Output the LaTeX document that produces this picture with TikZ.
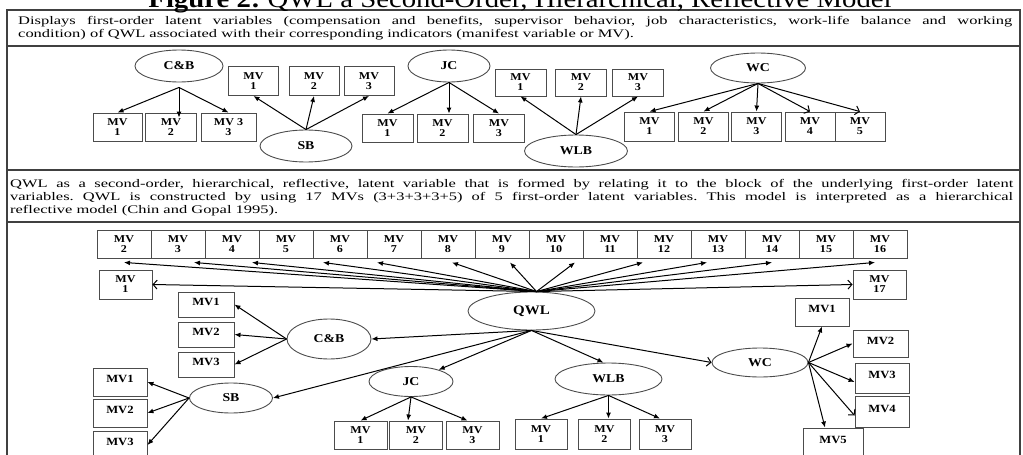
\documentclass[tikz,border=0pt]{standalone}
\usepackage{fontspec}
\setmainfont{Liberation Serif}[FakeStretch=1.15]
\newfontfamily\bodyfont{Liberation Serif}[FakeStretch=1.42]
\usetikzlibrary{shapes.geometric,arrows.meta}
\tolerance=9999
\frenchspacing

\tikzset{
  mv/.style={draw=black!70,line width=0.9pt,minimum width=51pt,minimum height=28pt,inner sep=0pt,align=center,font=\fontsize{10.5}{10}\selectfont\bfseries},
  mvs/.style={mv,text depth=6pt,font=\fontsize{11}{11}\selectfont\bfseries},
  lv/.style={ellipse,draw=black!70,line width=0.9pt,inner sep=0pt,font=\fontsize{12}{12}\selectfont\bfseries},
  arr/.style={-{Latex[length=6pt,width=5pt]},line width=1pt},
  oarr/.style={-{Straight Barb[length=4pt,width=9pt]},line width=1pt},
  para/.style={anchor=north west,inner sep=0pt,align=justify,font=\bodyfont\fontsize{11.6}{13.3}\selectfont},
  sepline/.style={draw=black!75,line width=1.2pt}
}

\begin{document}
\begin{tikzpicture}[x=1pt,y=-1pt]
  \useasboundingbox (0,0) rectangle (1023,455);
  \clip (0,0) rectangle (1023,455);

  % frame and captions
  \draw[sepline] (7,470) -- (7,10) -- (1020,10) -- (1020,470);
  \foreach \y in {46,170,222}
    {\draw[sepline] (7,\y) -- (1020,\y);}
  \node[anchor=base,inner sep=0pt,font=\fontsize{25}{25}\selectfont] (title) at (520,7) {\textbf{Figure 2:} QWL a Second-Order, Hierarchical, Reflective Model};
  \node[para,text width=994pt] (intro) at (18,16) {Displays first-order latent variables (compensation and benefits, supervisor behavior, job characteristics, work-life balance and working\linebreak condition) of QWL associated with their corresponding indicators (manifest variable or MV).};
  \node[para,text width=1003pt] (note) at (10,179) {QWL as a second-order, hierarchical, reflective, latent variable that is formed by relating it to the block of the underlying first-order latent\linebreak variables. QWL is constructed by using 17 MVs (3+3+3+3+5) of 5 first-order latent variables. This model is interpreted as a hierarchical\linebreak reflective model (Chin and Gopal 1995).};

  % first-order model
  \node[lv,minimum width=88pt,minimum height=32pt] (cb) at (179,66) {C\&B};
  \node[mv,minimum width=49pt] (cb1) at (117.5,127) {MV\\1};
  \node[mv] (cb2) at (171,127) {MV\\2};
  \node[mv,minimum width=55pt] (cb3) at (228.5,127) {MV 3\\3};
  \draw[arr] ([yshift=-5pt]cb.south) -- (cb1.north);
  \draw[arr] ([yshift=-5pt]cb.south) -- ([yshift=-5pt]cb.south |- cb2.north);
  \draw[arr] ([yshift=-5pt]cb.south) -- (cb3.north);

  \node[lv,minimum width=92pt,minimum height=32pt] (sb) at (306,146) {SB};
  \foreach \i/\x in {1/253.5,2/314,3/369}
    {\node[mv,minimum width=50pt,minimum height=29pt] (sb\i) at (\x,81) {MV\\\i};
     \draw[arr] (sb.north) -- (sb\i.south);}

  \node[lv,minimum width=82pt,minimum height=32pt] (jc) at (449,66) {JC};
  \foreach \i/\x in {1/387.5,2/442.5,3/499}
    {\node[mv] (jc\i) at (\x,128) {MV\\\i};}
  \draw[arr] (jc.south) -- (jc1.north);
  \draw[arr] (jc.south) -- (jc.south |- jc2.north);
  \draw[arr] (jc.south) -- (jc3.north);

  \node[lv,minimum width=103pt,minimum height=32pt] (wlb) at (576,151) {WLB};
  \foreach \i/\x in {1/520.5,2/581,3/638}
    {\node[mv,minimum height=27pt] (wlb\i) at (\x,82.5) {MV\\\i};
     \draw[arr] (wlb.north) -- (wlb\i.south);}

  \node[lv,minimum width=95pt,minimum height=30pt] (wc) at (758,68) {WC};
  \foreach \i/\x in {1/649.5,2/703.5,3/756.5,4/810,5/860}
    {\node[mv,minimum width=50pt,minimum height=29pt] (wc\i) at (\x,126.5) {MV\\\i};}
  \foreach \i in {1,2,3}
    {\draw[arr] (wc.south) -- (wc\i.north);}
  \draw[oarr] (wc.south) -- (wc4.north);
  \draw[oarr] (wc.south) -- (wc5.north);

  % second-order model
  \node[lv,minimum width=127pt,minimum height=38pt,font=\fontsize{13}{13}\selectfont\bfseries] (qwl) at (531.5,311) {QWL};
  \foreach \k in {2,...,16}
    {\node[mv,minimum width=54pt] (q\k) at ({124+54*(\k-2)},244) {MV\\\k};}
  \node[mv,minimum width=53pt,minimum height=29pt] (q1) at (125.5,284.5) {MV\\1};
  \node[mv,minimum width=53pt,minimum height=29pt] (q17) at (879.5,284.5) {MV\\17};
  \foreach \k/\dx in {2/0,3/16,4/20,6/-17,7/-17,8/4,9/8,10/19,12/-21,13/-11,14/0,16/-5}
    {\draw[arr] ([xshift=5pt]qwl.north) -- ([xshift=\dx pt,yshift=-4pt]q\k.south);}
  \draw[oarr] ([xshift=5pt]qwl.north) -- (q1.east);
  \draw[oarr] ([xshift=5pt]qwl.north) -- (q17.west);

  \node[lv,minimum width=84pt,minimum height=40pt] (lcb) at (329,339) {C\&B};
  \foreach \i/\y in {1/304.5,2/334.5,3/364.5}
    {\node[mvs,minimum width=56pt,minimum height=25pt] (lcb\i) at (206,\y) {MV\i};
     \draw[arr] (lcb.west) -- (lcb\i.east);}

  \node[lv,minimum width=83pt,minimum height=30pt] (lsb) at (231,398) {SB};
  \foreach \i/\y in {1/382,2/413,3/445}
    {\node[mvs,minimum width=54pt] (lsb\i) at (120,\y) {MV\i};
     \draw[arr] (lsb.west) -- (lsb\i.east);}

  \node[lv,minimum width=84pt,minimum height=30pt] (ljc) at (411,381.5) {JC};
  \foreach \i/\x in {1/360.5,2/416,3/472.5}
    {\node[mv,minimum width=53pt,minimum height=28pt] (ljc\i) at (\x,435) {MV\\\i};}
  \draw[arr] (ljc.south) -- (ljc1.north);
  \draw[arr] (ljc.south) -- ([xshift=-8pt]ljc2.north);
  \draw[arr] (ljc.south) -- ([xshift=-5pt]ljc3.north);

  \node[lv,minimum width=107pt,minimum height=32pt] (lwlb) at (608.5,379) {WLB};
  \foreach \i/\x in {1/541,2/604.5,3/665}
    {\node[mv,minimum width=52pt,minimum height=30pt] (lwlb\i) at (\x,434) {MV\\\i};}
  \draw[arr] (lwlb.south) -- (lwlb1.north);
  \draw[arr] (lwlb.south) -- (lwlb.south |- lwlb2.north);
  \draw[arr] (lwlb.south) -- ([xshift=-5pt]lwlb3.north);

  \node[lv,minimum width=96pt,minimum height=29pt] (lwc) at (760,362.5) {WC};
  \node[mvs,minimum width=54pt] (lwc1) at (822,312) {MV1};
  \node[mvs,minimum width=55pt,minimum height=27pt] (lwc2) at (880.5,343.5) {MV2};
  \node[mvs,minimum width=54pt,minimum height=30pt] (lwc3) at (882,378) {MV3};
  \node[mvs,minimum width=54pt,minimum height=31pt] (lwc4) at (882,411.5) {MV4};
  \node[mvs,minimum width=60pt,minimum height=30pt] (lwc5) at (833,443) {MV5};
  \draw[arr] (lwc.east) -- (lwc1.south);
  \draw[arr] (lwc.east) -- (lwc2.west);
  \draw[arr] (lwc.east) -- ([yshift=-4pt]lwc3.west);
  \draw[oarr] (lwc.east) -- ([yshift=-4pt]lwc4.west);
  \draw[arr] (lwc.east) -- ([xshift=-8pt]lwc5.north);

  \draw[arr] (qwl.south) -- (lcb.east);
  \draw[arr] (qwl.south) -- (lsb.east);
  \draw[arr] (qwl.south) -- (ljc);
  \draw[arr] (qwl.south) -- ([xshift=-5pt]lwlb.north);
  \draw[oarr] (qwl.south) -- (lwc.west);
\end{tikzpicture}
\end{document}
